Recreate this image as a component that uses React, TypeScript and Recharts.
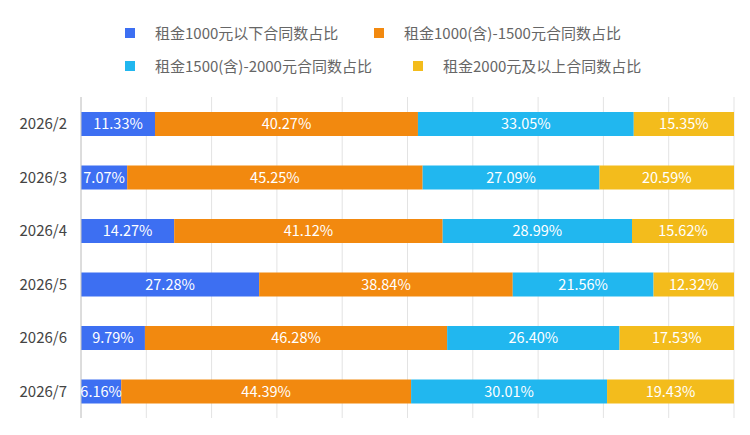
import React from 'react';
import { BarChart, Bar, XAxis, YAxis, CartesianGrid, LabelList } from 'recharts';

const months = ['2026/2', '2026/3', '2026/4', '2026/5', '2026/6', '2026/7'];
const below1000 = [11.33, 7.07, 14.27, 27.28, 9.79, 6.16];
const from1000to1500 = [40.27, 45.25, 41.12, 38.84, 46.28, 44.39];
const from1500to2000 = [33.05, 27.09, 28.99, 21.56, 26.40, 30.01];
const above2000 = [15.35, 20.59, 15.62, 12.32, 17.53, 19.43];
const seriesNames = ['租金1000元以下合同数占比', '租金1000(含)-1500元合同数占比', '租金1500(含)-2000元合同数占比', '租金2000元及以上合同数占比'];
const xTicks = [0, 10, 20, 30, 40, 50, 60, 70, 80, 90, 100];

const colors = ['#3D6FF2', '#F2890F', '#21B7EF', '#F3BC1C'];
const keys = ['a', 'b', 'c', 'd'];

const data = months.map((m, i) => ({
  month: m,
  a: below1000[i],
  b: from1000to1500[i],
  c: from1500to2000[i],
  d: above2000[i],
}));

const FONT = '"Noto Sans CJK SC", "Noto Sans", sans-serif';

const LegendItem = ({ color, label, left, top }: { color: string; label: string; left: number; top: number }) => (
  <div style={{ position: 'absolute', left, top, display: 'flex', alignItems: 'center', height: 20 }}>
    <div style={{ width: 10, height: 10, background: color, marginRight: 20 }} />
    <span style={{ fontSize: 15, color: '#666', whiteSpace: 'nowrap', lineHeight: '20px' }}>{label}</span>
  </div>
);

export default function App() {
  return (
    <div style={{ position: 'absolute', left: 0, top: 0, width: 750, height: 435, background: '#fff', fontFamily: FONT }}>
      <LegendItem color={colors[0]} label={seriesNames[0]} left={125} top={23} />
      <LegendItem color={colors[1]} label={seriesNames[1]} left={374} top={23} />
      <LegendItem color={colors[2]} label={seriesNames[2]} left={125} top={56} />
      <LegendItem color={colors[3]} label={seriesNames[3]} left={413} top={56} />
      <BarChart
        width={750}
        height={435}
        data={data}
        layout="vertical"
        margin={{ top: 97, right: 16, bottom: 17, left: 8 }}
        barSize={24}
        style={{ fontFamily: FONT }}
      >
        <CartesianGrid horizontal={false} vertical stroke="#e3e3e3" />
        <XAxis type="number" domain={[0, 100]} ticks={xTicks} hide />
        <YAxis
          type="category"
          dataKey="month"
          width={73}
          axisLine={{ stroke: '#c8c8c8' }}
          tickLine={false}
          tickMargin={8}
          tick={{ fill: '#444', fontSize: 15 }}
        />
        {keys.map((k, i) => (
          <Bar key={k} dataKey={k} name={seriesNames[i]} stackId="s" fill={colors[i]} isAnimationActive={false}>
            <LabelList
              dataKey={k}
              position="center"
              formatter={(v: any) => `${Number(v).toFixed(2)}%`}
              style={{ fill: '#fff', fontSize: 14.5 }}
            />
          </Bar>
        ))}
      </BarChart>
    </div>
  );
}
